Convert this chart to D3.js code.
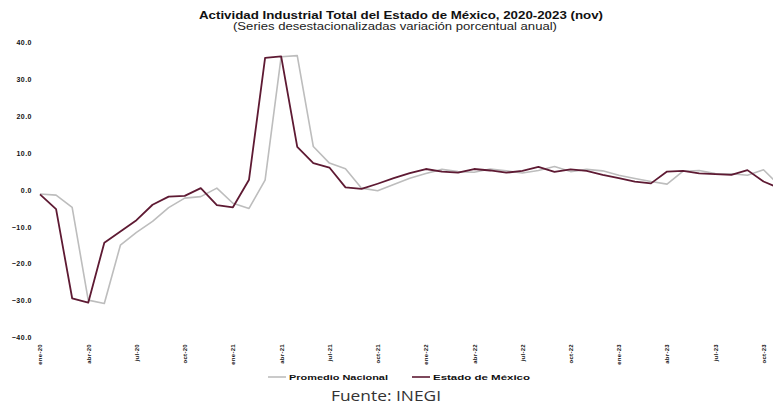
<!DOCTYPE html>
<html>
<head>
<meta charset="utf-8">
<script src="https://cdn.jsdelivr.net/npm/d3@7"></script>
<style>
  html, body { margin: 0; padding: 0; background: #fff; }
  svg { display: block; }
</style>
</head>
<body>
<svg id="chart" width="773" height="405"></svg>
<script>
const months = [
  "ene-20","feb-20","mar-20","abr-20","may-20","jun-20","jul-20","ago-20","sep-20","oct-20","nov-20","dic-20",
  "ene-21","feb-21","mar-21","abr-21","may-21","jun-21","jul-21","ago-21","sep-21","oct-21","nov-21","dic-21",
  "ene-22","feb-22","mar-22","abr-22","may-22","jun-22","jul-22","ago-22","sep-22","oct-22","nov-22","dic-22",
  "ene-23","feb-23","mar-23","abr-23","may-23","jun-23","jul-23","ago-23","sep-23","oct-23","nov-23"
];
const nacional = [
  -1.1, -1.4, -4.7, -29.9, -30.8, -15.0, -11.5, -8.5, -4.8, -2.2, -1.8, 0.5,
  -3.6, -5.0, 2.7, 36.2, 36.5, 11.8, 7.3, 5.8, 0.5, -0.2, 1.5, 3.2,
  4.5, 5.6, 5.0, 4.8, 5.7, 5.2, 4.6, 5.3, 6.4, 5.0, 5.6, 5.2,
  4.0, 3.1, 2.3, 1.6, 5.1, 5.3, 4.5, 4.4, 4.0, 5.5, 1.2
];
const estado = [
  -1.2, -5.2, -29.4, -30.6, -14.3, -11.3, -8.2, -4.0, -1.8, -1.6, 0.5, -4.1,
  -4.7, 2.8, 35.9, 36.3, 11.7, 7.3, 6.1, 0.7, 0.3, 1.7, 3.2, 4.6,
  5.7, 5.0, 4.7, 5.7, 5.3, 4.7, 5.2, 6.3, 4.9, 5.6, 5.2, 4.1,
  3.2, 2.3, 1.8, 5.0, 5.2, 4.5, 4.3, 4.1, 5.4, 2.3, 0.5
];
const yTicks = [-40, -30, -20, -10, 0, 10, 20, 30, 40];
const seriesNames = ["Promedio Nacional", "Estado de México"];
const title = "Actividad Industrial Total del Estado de México, 2020-2023 (nov)";
const subtitle = "(Series desestacionalizadas variación porcentual anual)";
const source = "Fuente: INEGI";

const svg = d3.select("#chart");
const x = d3.scaleLinear().domain([0, 45]).range([40, 763.5]);
const y = d3.scaleLinear().domain([-40, 40]).range([337.3, 42.7]);
const FONT = "Liberation Sans, Arial, sans-serif";

// Title
svg.append("text").attr("x", 199).attr("y", 19)
  .attr("textLength", 404).attr("lengthAdjust", "spacingAndGlyphs")
  .style("font-family", FONT).style("font-weight", "bold")
  .style("font-size", "10.5px").attr("fill", "#111").text(title);
svg.append("text").attr("x", 233).attr("y", 30)
  .attr("textLength", 324).attr("lengthAdjust", "spacingAndGlyphs")
  .style("font-family", FONT)
  .style("font-size", "10px").attr("fill", "#222").text(subtitle);

// Y axis (no line)
const yAxis = d3.axisLeft(y).tickValues(yTicks).tickSize(0).tickPadding(0).tickFormat(d3.format(".1f"));
const gy = svg.append("g").attr("transform", "translate(32,0)").call(yAxis);
gy.select(".domain").remove();
gy.selectAll("text").style("font-family", FONT)
  .style("font-weight", "bold").style("font-size", "7px").style("letter-spacing", "0.5px").attr("fill", "#111");

// X axis labels
const tickIdx = d3.range(0, 46, 3);
const xAxis = d3.axisBottom(x).tickValues(tickIdx).tickSize(0).tickFormat(i => months[i]);
const gx = svg.append("g").attr("transform", "translate(0,344)").call(xAxis);
gx.select(".domain").remove();
gx.selectAll("text")
  .style("font-family", FONT).style("font-weight", "bold")
  .style("font-size", "6px").style("letter-spacing", "0.3px").attr("fill", "#111")
  .attr("text-anchor", "end").attr("dy", "0.32em").attr("y", 0).attr("x", 0)
  .attr("transform", "rotate(-90)");

// Lines
const line = d3.line().x((d, i) => x(i)).y(d => y(d));
svg.append("path").datum(nacional).attr("d", line).attr("fill", "none")
  .attr("stroke", "#bdbdbd").attr("stroke-width", 1.6).attr("stroke-linejoin", "round");
svg.append("path").datum(estado).attr("d", line).attr("fill", "none")
  .attr("stroke", "#5e1a33").attr("stroke-width", 1.8).attr("stroke-linejoin", "round");

// Legend
const legend = [
  {name: seriesNames[0], color: "#bdbdbd", x0: 268, len: 99},
  {name: seriesNames[1], color: "#5e1a33", x0: 412, len: 97}
];
legend.forEach(l => {
  svg.append("line").attr("x1", l.x0).attr("x2", l.x0 + 18).attr("y1", 377).attr("y2", 377)
    .attr("stroke", l.color).attr("stroke-width", 1.6);
  svg.append("text").attr("x", l.x0 + 21).attr("y", 380)
    .attr("textLength", l.len).attr("lengthAdjust", "spacingAndGlyphs")
    .style("font-family", FONT).style("font-weight", "bold")
    .style("font-size", "8px").attr("fill", "#111").text(l.name);
});

// Source
svg.append("text").attr("x", 331).attr("y", 401)
  .attr("textLength", 110).attr("lengthAdjust", "spacingAndGlyphs")
  .style("font-family", "Open Sans, sans-serif").style("font-size", "14px").attr("fill", "#333").text(source);
</script>
</body>
</html>
